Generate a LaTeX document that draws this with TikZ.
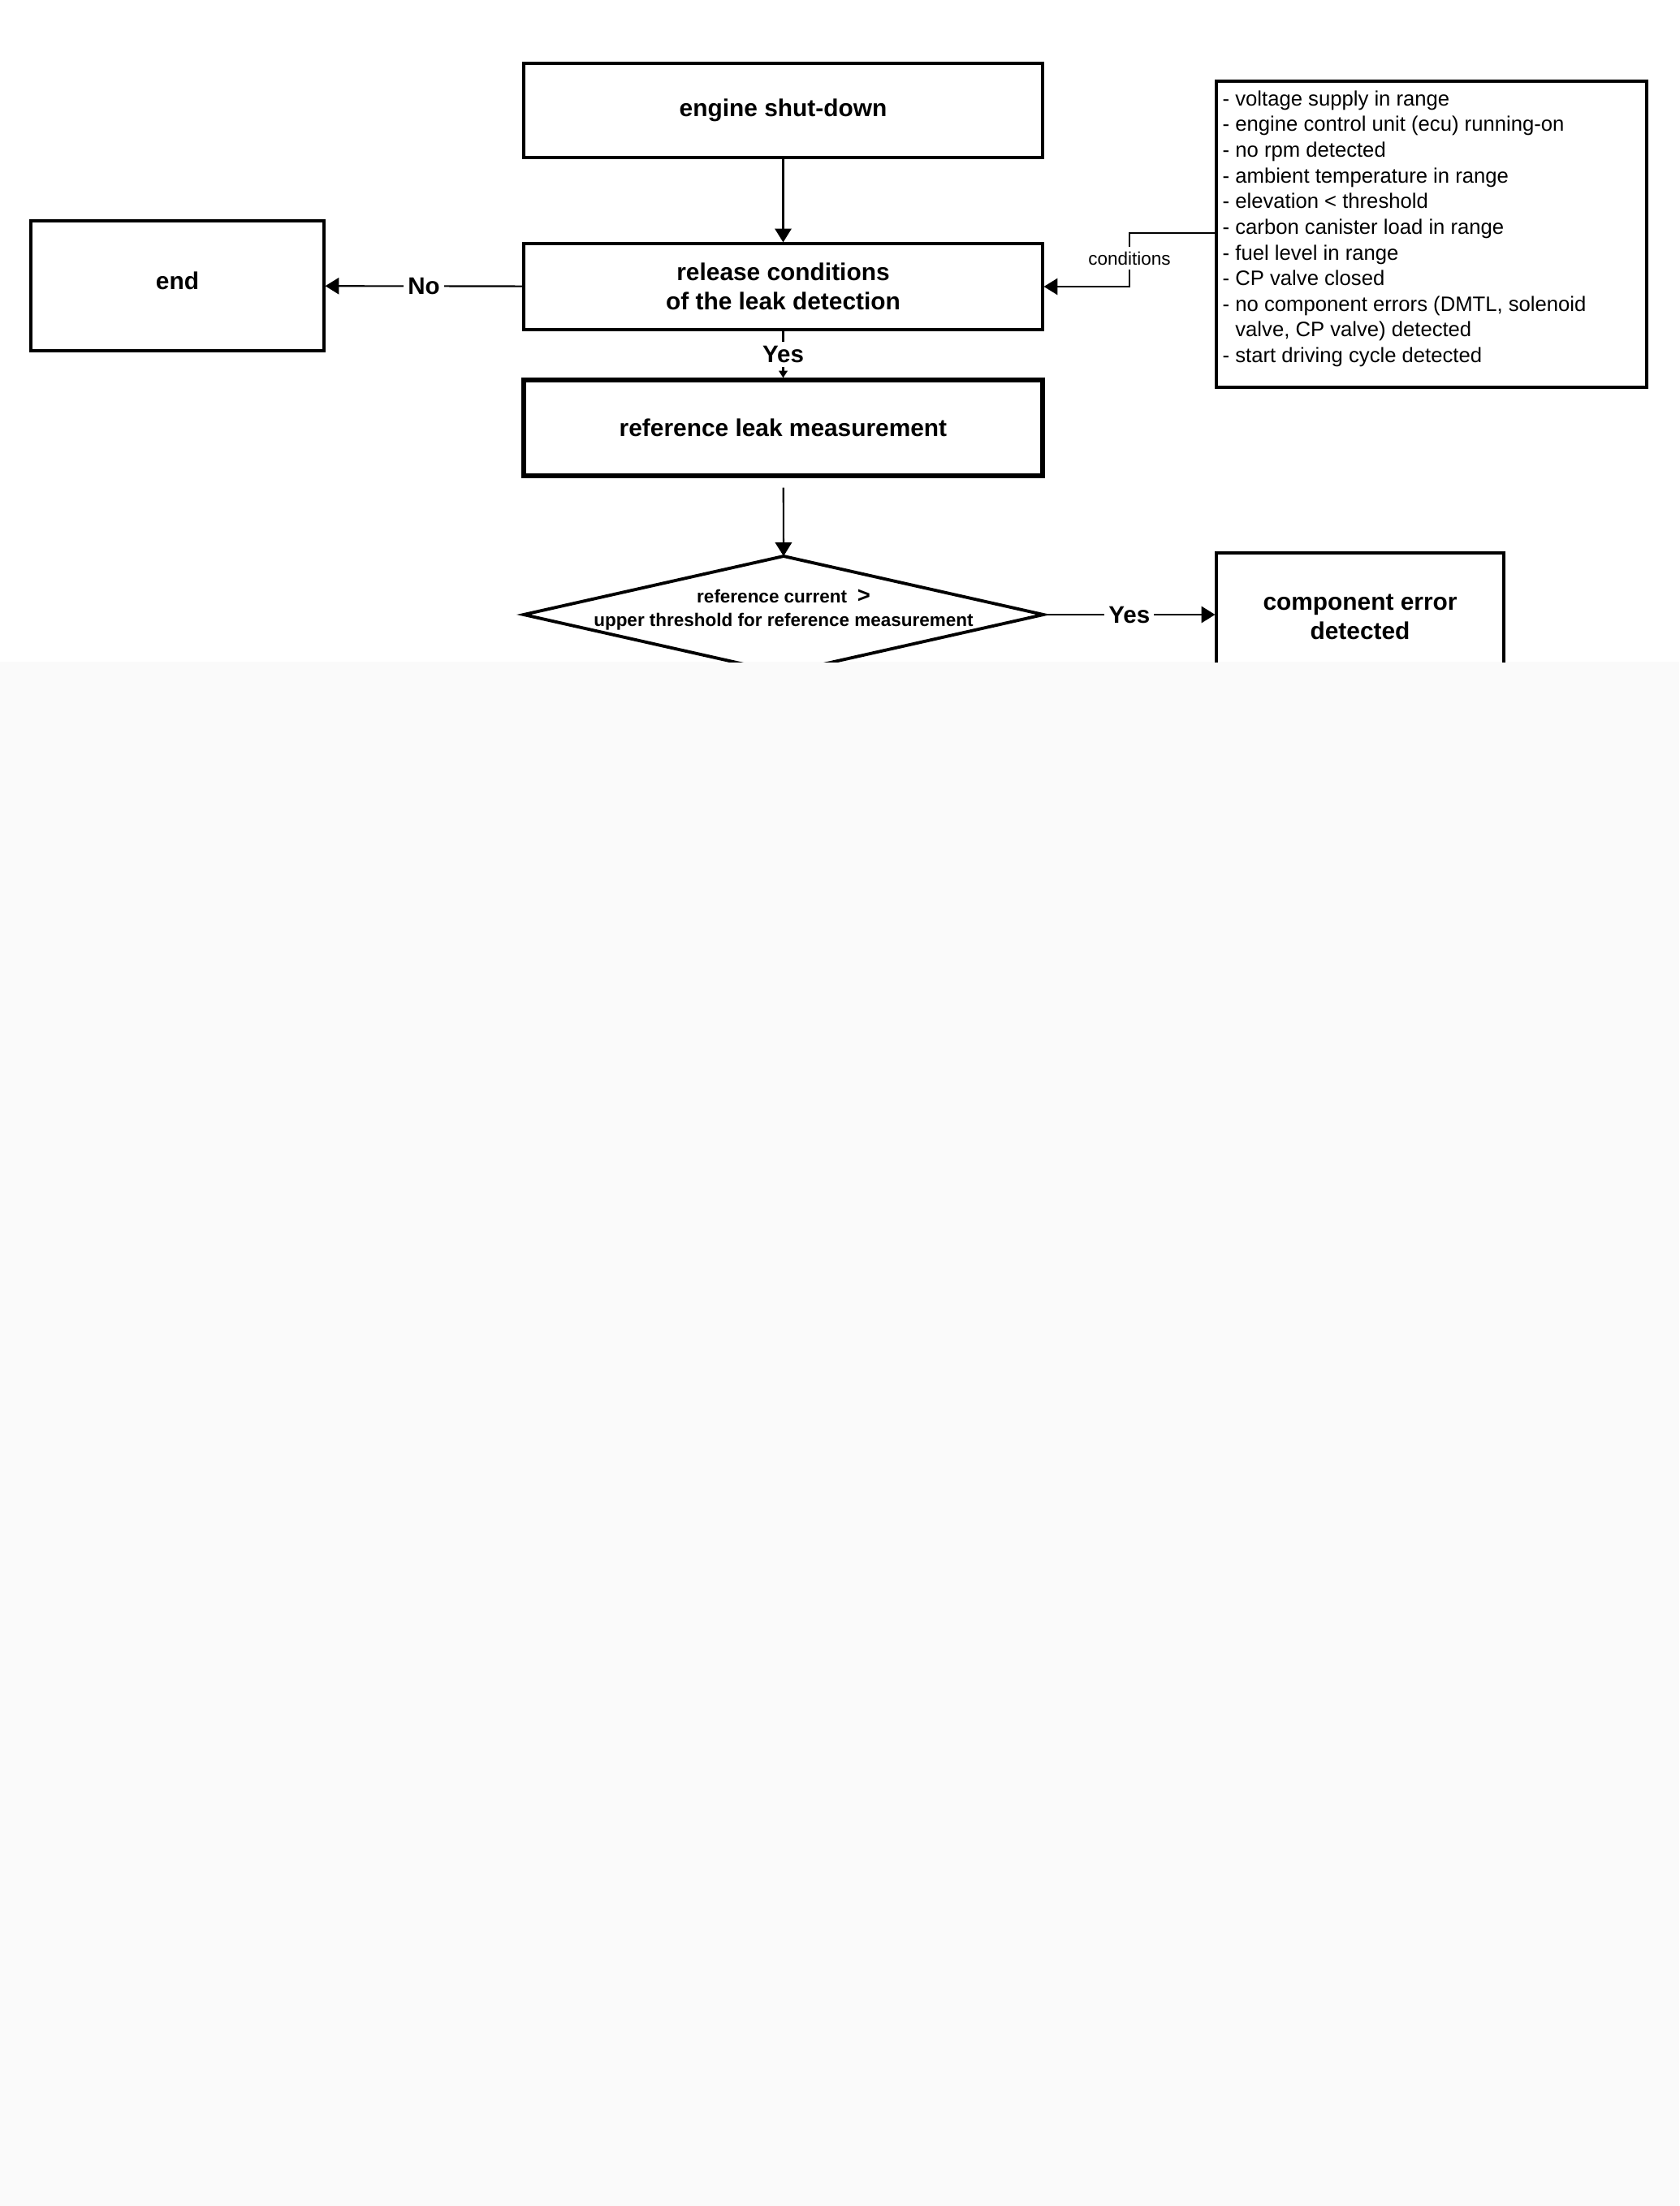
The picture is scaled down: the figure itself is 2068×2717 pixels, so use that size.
\documentclass[tikz,border=0pt]{standalone}
\usepackage{fontspec}
\setmainfont{Liberation Sans}
\usetikzlibrary{arrows.meta,calc}
\begin{document}
\begin{tikzpicture}[x=0.1mm,y=-0.1mm,
  box/.style={draw, line width=0.9pt, inner sep=0pt, align=center,
    font=\fontsize{8.5}{10.2}\selectfont\bfseries},
  arr/.style={line width=0.6pt, -{Triangle[length=4.8pt,width=5.8pt]}},
  arrs/.style={line width=0.6pt, -{Triangle[length=2.5pt,width=3pt]}},
  lbl/.style={fill=white, inner sep=1.5pt, font=\fontsize{8.4}{10}\selectfont\bfseries},
  condlbl/.style={fill=white, inner sep=1.5pt, font=\fontsize{6.4}{8}\selectfont},
  listtxt/.style={inner sep=0pt, align=left, font=\fontsize{7.3}{9.0}\selectfont}
]
\useasboundingbox (0,0) rectangle (2068,2717);
\fill[white] (0,0) rectangle (2068,815);
\fill[black!2] (0,815) rectangle (2068,2717);

% main nodes
\node[box, minimum width=63.9mm, minimum height=11.6mm] (engine) at (964.5,136) {engine shut-down};
\node[box, minimum width=63.9mm, minimum height=10.6mm] (release) at (964.5,353) {release conditions\\of the leak detection};
\node[box, minimum width=36.1mm, minimum height=16mm] (end) at (218.5,352) {\raisebox{1.2mm}{end}};
\node[box, line width=1.5pt, minimum width=63.9mm, minimum height=11.8mm] (refleak) at (964.5,527) {reference leak measurement};

% conditions box
\node[draw, line width=1pt, minimum width=53mm, minimum height=37.7mm, inner sep=0pt] (cond) at (1763,288.5) {};
\node[listtxt, anchor=north west] (condtxt) at (1505,111) {%
- voltage supply in range\\
- engine control unit (ecu) running-on\\
- no rpm detected\\
- ambient temperature in range\\
- elevation < threshold\\
- carbon canister load in range\\
- fuel level in range\\
- CP valve closed\\
- no component errors (DMTL, solenoid\\
\phantom{- }valve, CP valve) detected\\
- start driving cycle detected};

% diamond and component box (cut off at the bottom)
\coordinate (dl) at (645,757);
\coordinate (dt) at (965,685);
\coordinate (dr) at (1285,757);
\coordinate (db) at (965,829);
\begin{scope}
  \clip (0,0) rectangle (2068,815);
  \draw[line width=1.1pt, line join=miter] (dl) -- (dt) -- (dr) -- (db) -- cycle;
  \node[box, minimum width=35.4mm, minimum height=15.8mm] (comp) at (1675,760) {component error\\detected};
\end{scope}
\node[inner sep=0pt, align=center, font=\fontsize{6.4}{8.25}\selectfont\bfseries] (dtxt) at (965,751)
  {reference current\ \ {\fontsize{7.8}{8}\selectfont >}\\upper threshold for reference measurement};

% connectors
\draw[arr] (engine) -- (release);
\draw[arr] (release) -- node[lbl]{No} (end);
\draw[arrs] (release) -- node[lbl]{Yes} (refleak);
\draw[arr, shorten <=1.2mm] (refleak) -- (dt);
\draw[arr] (dr) -- node[lbl]{Yes} (comp.west |- dr);

\coordinate (cj) at (1391,287);
\draw[line width=0.5pt, -{Triangle[length=4.8pt,width=5.8pt]}] (cond.west |- cj) -- (cj) |- (release.east);
\node[condlbl] (condlabel) at (1391,318) {conditions};
\end{tikzpicture}
\end{document}
